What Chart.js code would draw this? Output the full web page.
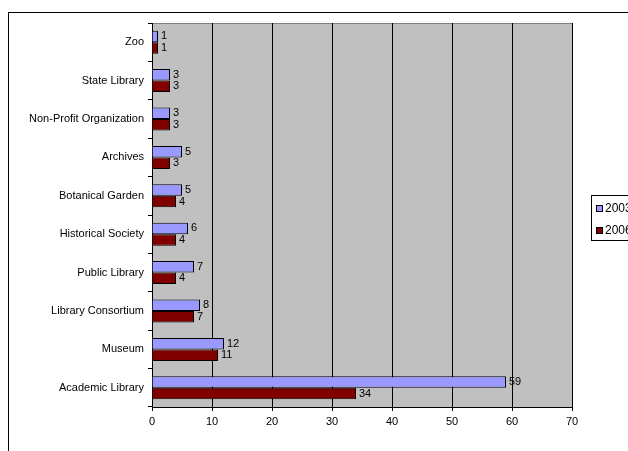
<!DOCTYPE html>
<html>
<head>
<meta charset="utf-8">
<script src="https://cdn.jsdelivr.net/npm/chart.js@4/dist/chart.umd.min.js"></script>
<style>
	body{ margin:0; background:#fff; }
	#wrap{ position:relative; width:628px; height:451px; overflow:hidden; }
	#frame{ position:absolute; left:8px; top:12px; width:700px; height:500px; border:1px solid #000; box-sizing:border-box; }
	#chart{ position:absolute; left:0; top:0; }
</style>
</head>
<body>
<div id="wrap">
	<div id="frame"></div>
	<canvas id="chart" width="628" height="451"></canvas>
</div>
<script>
const categories = [
	'Zoo',
	'State Library',
	'Non-Profit Organization',
	'Archives',
	'Botanical Garden',
	'Historical Society',
	'Public Library',
	'Library Consortium',
	'Museum',
	'Academic Library'
];
const values2003 = [1, 3, 3, 5, 5, 6, 7, 8, 12, 59];
const values2006 = [1, 3, 3, 3, 4, 4, 4, 7, 11, 34];
const seriesNames = ['2003', '2006'];
const xTicks = [0, 10, 20, 30, 40, 50, 60, 70];

const FONT = 'Liberation Sans, Arial, sans-serif';

/** grey plot area behind the bars **/
const plotBg = {
	id: 'plotBg',
	beforeDraw(chart){
		const a = chart.chartArea, c = chart.ctx;
		c.save();
		c.fillStyle = '#c0c0c0';
		c.fillRect(a.left, a.top, a.right - a.left, a.bottom - a.top);
		c.strokeStyle = '#808080';
		c.lineWidth = 1;
		c.strokeRect(a.left + 0.5, a.top + 0.5, a.right - a.left, a.bottom - a.top);
		c.restore();
	}
};

/** numbers at the end of each bar **/
const barValues = {
	id: 'barValues',
	afterDatasetsDraw(chart){
		const c = chart.ctx;
		c.save();
		c.font = '11px ' + FONT;
		c.fillStyle = '#000';
		c.textBaseline = 'middle';
		c.textAlign = 'left';
		chart.data.datasets.forEach((ds, i) => {
			chart.getDatasetMeta(i).data.forEach((bar, j) => {
				c.fillText(ds.data[j], bar.x + 3, bar.y);
			});
		});
		c.restore();
	}
};

/** legend box on the right, like the excel one **/
const sideLegend = {
	id: 'sideLegend',
	afterDraw(chart){
		const c = chart.ctx;
		const x = 591, y = 195;
		c.save();
		c.fillStyle = '#fff';
		c.fillRect(x, y, 60, 45);
		c.strokeStyle = '#000';
		c.lineWidth = 1;
		c.strokeRect(x + 0.5, y + 0.5, 60, 45);
		c.font = '12px ' + FONT;
		c.textBaseline = 'middle';
		chart.data.datasets.forEach((ds, i) => {
			const ry = y + 10 + i * 22;
			c.fillStyle = ds.backgroundColor;
			c.fillRect(x + 5, ry, 7, 7);
			c.strokeStyle = '#000';
			c.strokeRect(x + 5.5, ry + 0.5, 6, 6);
			c.fillStyle = '#000';
			c.fillText(seriesNames[i], x + 14, ry + 4);
		});
		c.restore();
	}
};

new Chart(document.getElementById('chart'), {
	type: 'bar',
	data: {
		labels: categories,
		datasets: [{
			label: seriesNames[0],
			data: values2003,
			backgroundColor: '#9999ff',
			borderColor: '#000',
			borderWidth: 1,
			barPercentage: 1,
			categoryPercentage: 0.6
		},{
			label: seriesNames[1],
			data: values2006,
			backgroundColor: '#800000',
			borderColor: '#000',
			borderWidth: 1,
			barPercentage: 1,
			categoryPercentage: 0.6
		}]
	},
	options: {
		indexAxis: 'y',
		responsive: false,
		animation: false,
		layout: { padding: { left: 0, right: 56, top: 23, bottom: 0 } },
		plugins: {
			legend: { display: false },
			tooltip: { enabled: false }
		},
		scales: {
			x: {
				min: 0,
				max: 70,
				afterBuildTicks: s => { s.ticks = xTicks.map(v => ({ value: v })); },
				ticks: { color: '#000', font: { family: FONT, size: 11 }, padding: 4 },
				grid: { color: '#000', tickLength: 4, drawTicks: true },
				border: { color: '#000' },
				afterFit: s => { s.height = 44; }
			},
			y: {
				ticks: { color: '#000', font: { family: FONT, size: 11 }, padding: 4 },
				grid: { drawOnChartArea: false, color: '#000', tickLength: 4, offset: true },
				border: { color: '#000' },
				afterFit: s => { s.width = 152; }
			}
		}
	},
	plugins: [plotBg, barValues, sideLegend]
});
</script>
</body>
</html>
